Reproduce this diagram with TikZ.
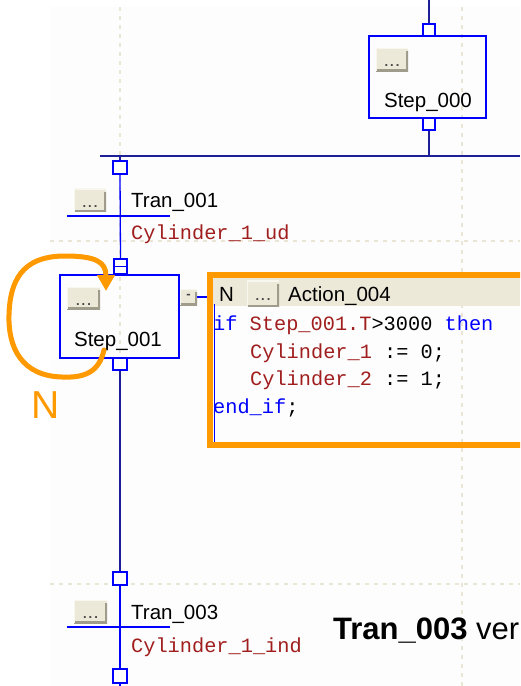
\documentclass[tikz,border=0pt]{standalone}
\usepackage{fontspec}
\setmainfont{Liberation Sans}
\newfontfamily\monof{Liberation Mono}
\usetikzlibrary{arrows.meta}
\definecolor{navyline}{RGB}{30,30,150}
\definecolor{sfcblue}{RGB}{0,0,255}
\definecolor{btnbg}{RGB}{236,233,216}
\definecolor{btnshade}{RGB}{160,156,140}
\definecolor{btndot}{RGB}{70,70,70}
\definecolor{gridc}{RGB}{234,230,214}
\definecolor{codered}{RGB}{160,30,30}
\definecolor{hlorange}{RGB}{255,153,0}
\definecolor{canvas}{RGB}{253,253,253}
\tikzset{
  sfcbox/.style={rectangle, draw=sfcblue, line width=1.3pt, inner sep=0pt},
  sq/.style={rectangle, draw=sfcblue, line width=1.3pt, fill=white, minimum width=13pt, minimum height=13pt, inner sep=0pt},
  btn/.style={rectangle, fill=btnbg, inner sep=0pt, minimum width=32pt, minimum height=23pt,
    font=\bfseries\fontsize{13}{13}\selectfont, text=btndot,
    path picture={\draw[btnshade, line width=3.5pt] ([yshift=-3pt]path picture bounding box.north east) -- (path picture bounding box.south east) -- (path picture bounding box.south west);
                  \draw[white!60!btnbg, line width=2pt] (path picture bounding box.south west) -- (path picture bounding box.north west) -- (path picture bounding box.north east);}},
  lbl/.style={anchor=base west, inner sep=0pt, font=\fontsize{20.5}{24}\selectfont},
  clbl/.style={anchor=base, inner sep=0pt, font=\fontsize{20.5}{24}\selectfont},
  codetxt/.style={anchor=base west, inner sep=0pt, font=\monof\fontsize{20.3}{24}\selectfont},
  gridline/.style={gridc, line width=1.2pt, dash pattern=on 4pt off 5pt},
  navy/.style={navyline, line width=1.6pt},
  blue/.style={sfcblue, line width=1.3pt},
}
\newcommand{\btndots}{\smash{\raisebox{-7pt}{.\hspace{2pt}.\hspace{2pt}.}}}
\begin{document}
\begin{tikzpicture}[x=1pt,y=-1pt]
\useasboundingbox (0,0) rectangle (520,686);
\clip (0,0) rectangle (520,686);
\fill[white] (0,0) rectangle (520,686);
\fill[canvas] (50,7) rectangle (520,686);
% grid
\draw[gridline] (120,7) -- (120,686);
\draw[gridline] (462,7) -- (462,686);
\draw[gridline] (50,241) -- (520,241);
\draw[gridline] (50,584) -- (520,584);

% Step_000
\coordinate (top0) at (429,0);
\node[sfcbox, minimum width=117pt, minimum height=82pt] (s0) at (427.5,77) {};
\node[sq, minimum width=12pt, minimum height=12pt] (s0top) at (429,30) {};
\node[sq, minimum width=12pt, minimum height=12pt] (s0bot) at (429,124) {};
\node[btn] (b0) at (392,59.5) {\btndots};
\node[clbl] (s0lbl) at (428,107) {Step\_000};
\coordinate (mjoin) at (429,156);
\coordinate (mleft) at (100,156);
\coordinate (mright) at (520,156);
\coordinate (mdrop) at (120,156);
\draw[navy] (top0) -- (s0top.north);
\draw[navy] (s0bot.south) -- (mjoin);
\draw[navyline, line width=2.2pt] (mleft) -- (mright);

% Tran_001
\node[sq, minimum width=14pt] (t1sq) at (120,167.5) {};
\coordinate (t1l) at (67,216);
\coordinate (t1r) at (170,216);
\node[btn] (b1) at (90,200) {\btndots};
\node[lbl] (t1lbl) at (131,207) {Tran\_001};
\node[codetxt, text=codered] (t1cond) at (131,239) {Cylinder\_1\_ud};

% Step_001
\node[sfcbox, minimum width=119pt, minimum height=83pt] (s1) at (119.5,316.5) {};
\node[sq, minimum height=15pt] (s1top) at (120.5,266.5) {};
\node[sq, minimum width=14pt, minimum height=12pt] (s1bot) at (120,364) {};
\node[btn, minimum width=33pt, minimum height=22pt] (b2) at (83.5,298) {\btndots};
\node[clbl] (s1lbl) at (118,346) {Step\_001};

\draw[navy] (mdrop) -- (t1sq.north);
\draw[blue] (t1sq.south) -- (s1top.north);
\draw[blue] (t1l) -- (t1r);
\draw[sfcblue, line width=1pt] (s1top.west) -- (s1top.east);

% Tran_003
\node[sq, minimum width=14pt] (t3sq) at (120,578.5) {};
\node[sq, minimum width=14pt, minimum height=14pt] (t3bot) at (120,676) {};
\coordinate (t3l) at (67,627);
\coordinate (t3r) at (170,627);
\coordinate (bottomend) at (120,686);
\node[btn, minimum width=33pt] (b4) at (90.5,611.5) {\btndots};
\node[lbl] (t3lbl) at (131,619) {Tran\_003};
\node[codetxt, text=codered] (t3cond) at (131,652) {Cylinder\_1\_ind};
\draw[navy] (s1bot.south) -- (t3sq.north);
\draw[blue] (t3sq.south) -- (t3bot.north);
\draw[blue] (t3l) -- (t3r);
\draw[blue] (t3bot.south) -- (bottomend);

% Action block
\node[btn, minimum width=17pt, minimum height=16pt] (minus) at (188.5,297) {\smash{\raisebox{-1pt}{-}}};
\fill[btnbg] (213,278) rectangle (520,306);
\draw[sfcblue, line width=1pt] (214,304) -- (214,443);
\coordinate (actin) at (210,297);
\draw[blue] (minus.east) -- (actin);
\node[btn, minimum width=32pt, minimum height=26pt] (b3) at (263,293.5) {\btndots};
\node[lbl] (aq) at (219,301) {N};
\node[lbl] (aname) at (288,301) {Action\_004};
\node[codetxt] (c1) at (213,330) {\textcolor{sfcblue}{if} \textcolor{codered}{Step\_001.T}>3000 \textcolor{sfcblue}{then}};
\node[codetxt] (c2) at (250,358) {\textcolor{codered}{Cylinder\_1} := 0;};
\node[codetxt] (c3) at (250,385) {\textcolor{codered}{Cylinder\_2} := 1;};
\node[codetxt] (c4) at (213,413) {\textcolor{sfcblue}{end\_if};};
\draw[hlorange, line width=6pt] (210,275) rectangle (540,445);

% orange loop annotation
\coordinate (loopstart) at (104,350);
\coordinate (loopend) at (106,291);
\draw[hlorange, line width=5pt, line cap=round, -{Triangle[length=16pt,width=17pt]}]
  (loopstart) .. controls (99,372) and (85,378) .. (62,377)
  .. controls (22,376) and (8,348) .. (9,315)
  .. controls (10,272) and (30,256) .. (65,256)
  .. controls (96,256) and (106,262) .. (loopend);
\node[anchor=base west, inner sep=0pt, text=hlorange, font=\fontsize{39}{44}\selectfont] (nlbl) at (31,418) {N};

% bottom text
\node[anchor=base west, inner sep=0pt, font=\fontsize{31}{36}\selectfont] (note) at (333,639) {\textbf{Tran\_003} ver};
\end{tikzpicture}
\end{document}
